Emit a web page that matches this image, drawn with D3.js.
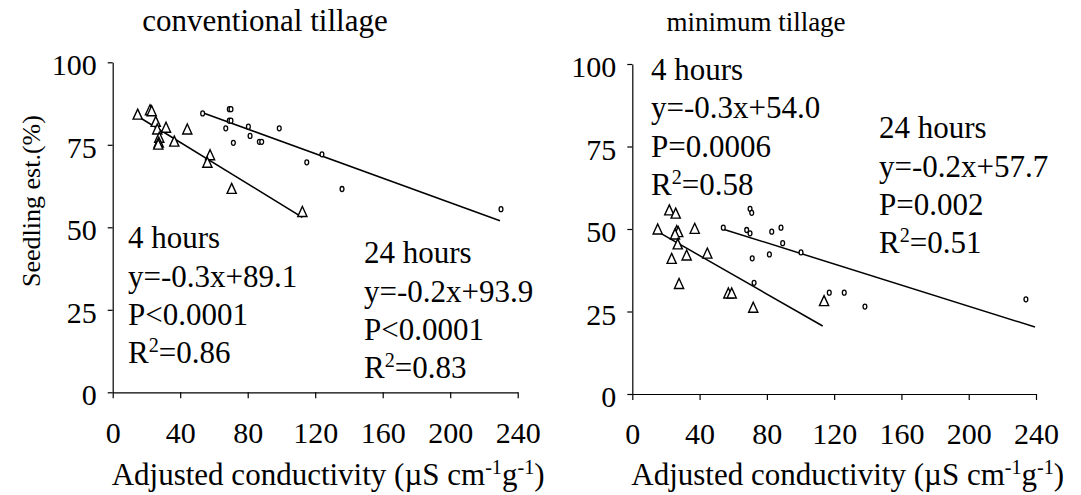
<!DOCTYPE html>
<html>
<head>
<meta charset="utf-8">
<script src="https://cdn.jsdelivr.net/npm/d3@7"></script>
<style>
  body { margin: 0; background: #fff; }
  svg { display: block; }
  text { font-family: 'Liberation Serif', 'Times New Roman', serif; fill: #000; }
</style>
</head>
<body>
<svg id="chart" width="1081" height="495"></svg>
<script>
// axis ticks
const xTicks = [0, 40, 80, 120, 160, 200, 240]
const yTicks = [0, 25, 50, 75, 100]

// conventional tillage, 4 hours (triangles)
const ctX4 = [14.8, 22.1, 23.1, 25.5, 26.4, 27.6, 27.3, 27.0, 31.6, 36.5, 44.2, 57.7, 56.1, 70.5, 112.4]
const ctY4 = [84.0, 85.3, 85.0, 81.8, 79.5, 77.0, 75.5, 74.9, 80.0, 75.8, 79.5, 71.7, 69.4, 61.5, 54.5]
// conventional tillage, 24 hours (circles)
const ctX24 = [53.3, 69.1, 70.1, 69.1, 70.1, 67.0, 80.4, 81.4, 71.5, 86.9, 88.3, 98.7, 115.0, 124.0, 135.9, 230.1]
const ctY24 = [84.5, 85.8, 85.8, 82.3, 82.3, 80.0, 80.5, 77.7, 75.6, 75.9, 75.9, 80.0, 69.7, 72.1, 61.6, 55.5]

// minimum tillage, 4 hours (triangles)
const mtX4 = [15.1, 22.0, 25.8, 26.4, 27.3, 25.4, 27.0, 23.4, 32.3, 37.1, 44.6, 27.8, 57.1, 59.1, 71.9, 114.0]
const mtY4 = [49.7, 55.5, 54.5, 49.2, 48.9, 48.2, 45.2, 40.8, 41.8, 49.9, 42.4, 33.2, 30.3, 30.3, 26.0, 28.0]
// minimum tillage, 24 hours (circles)
const mtX24 = [54.1, 70.0, 71.0, 68.0, 70.0, 82.9, 88.4, 89.4, 81.5, 71.3, 100.3, 72.4, 117.1, 126.0, 138.3, 234.0]
const mtY24 = [50.4, 56.1, 54.9, 49.7, 48.7, 49.2, 50.4, 45.7, 42.3, 41.1, 42.9, 33.7, 30.7, 30.7, 26.5, 28.7]

// fitted lines as drawn: [slope, intercept, xStart, xEnd]
const ctFit4 = [-0.314, 88.3, 14.8, 112.4]
const ctFit24 = [-0.1856, 94.6, 53.3, 229.5]
const mtFit4 = [-0.2915, 53.6, 15.1, 113.2]
const mtFit24 = [-0.160, 58.6, 54.1, 239.4]

// texts
const ctNote4 = ['4 hours', 'y=-0.3x+89.1', 'P<0.0001', 'R^2=0.86']
const ctNote24 = ['24 hours', 'y=-0.2x+93.9', 'P<0.0001', 'R^2=0.83']
const mtNote4 = ['4 hours', 'y=-0.3x+54.0', 'P=0.0006', 'R^2=0.58']
const mtNote24 = ['24 hours', 'y=-0.2x+57.7', 'P=0.002', 'R^2=0.51']
const xTitle = 'Adjusted conductivity (µS cm^-1g^-1)'
const yTitle = 'Seedling est.(%)'

const svg = d3.select('#chart')

// text with "^" superscripts
function richText(sel, str, size) {
  const parts = str.split(/\^([-\d]+)/)
  const rise = size * 0.36
  let raised = false
  parts.forEach((p, i) => {
    if (!p) return
    const sup = i % 2 === 1
    const t = sel.append('tspan').text(p)
    if (sup) {
      t.attr('font-size', size * 0.65).attr('dy', -rise)
      raised = true
    } else if (raised) {
      t.attr('dy', rise)
      raised = false
    }
  })
}

const panels = [
  {
    title: 'conventional tillage', titleX: 265, titleSize: 31,
    left: 112.7, right: 517.7, top: 62.3, bottom: 392.3,
    x4: ctX4, y4: ctY4, x24: ctX24, y24: ctY24, fit4: ctFit4, fit24: ctFit24,
    notes: [{ x: 128, y: 248.3, lines: ctNote4 }, { x: 364, y: 263.3, lines: ctNote24 }],
    yLabel: true
  },
  {
    title: 'minimum tillage', titleX: 756, titleSize: 27,
    left: 632.3, right: 1036, top: 64, bottom: 394,
    x4: mtX4, y4: mtY4, x24: mtX24, y24: mtY24, fit4: mtFit4, fit24: mtFit24,
    notes: [{ x: 651, y: 80, lines: mtNote4 }, { x: 879, y: 138.3, lines: mtNote24 }],
    yLabel: false
  }
]

panels.forEach(p => {
  const x = d3.scaleLinear().domain([0, 240]).range([p.left, p.right])
  const y = d3.scaleLinear().domain([0, 100]).range([p.bottom, p.top])
  const g = svg.append('g')

  // axes
  const yAxis = g.append('g')
    .attr('transform', `translate(${p.left},0)`)
    .call(d3.axisLeft(y).tickValues(yTicks).tickSize(5).tickSizeOuter(0).tickPadding(11))
  yAxis.attr('font-family', null)
  yAxis.selectAll('text').attr('font-size', 30).attr('dy', '0.42em')

  const xAxis = g.append('g')
    .attr('transform', `translate(0,${p.bottom})`)
    .call(d3.axisBottom(x).tickValues(xTicks).tickSize(6).tickSizeOuter(0).tickPadding(23))
  xAxis.attr('font-family', null)
  xAxis.selectAll('text').attr('font-size', 30)

  g.selectAll('.domain, .tick line').attr('stroke', '#000').attr('stroke-width', 1.2)

  // fitted lines
  ;[p.fit4, p.fit24].forEach(f => {
    const xs = [f[2], f[3]]
    g.append('path')
      .attr('d', d3.line().x(d => x(d)).y(d => y(f[0] * d + f[1]))(xs))
      .attr('fill', 'none').attr('stroke', '#000').attr('stroke-width', 1.5)
  })

  // 4 hours: open triangles
  g.selectAll('.tri').data(p.x4.map((v, i) => [v, p.y4[i]])).enter()
    .append('path')
    .attr('d', 'M0,-6 L4.6,4 L-4.6,4 Z')
    .attr('transform', d => `translate(${x(d[0])},${y(d[1])})`)
    .attr('fill', '#fff').attr('stroke', '#000').attr('stroke-width', 1.4)

  // 24 hours: small open circles
  g.selectAll('.circ').data(p.x24.map((v, i) => [v, p.y24[i]])).enter()
    .append('ellipse')
    .attr('cx', d => x(d[0])).attr('cy', d => y(d[1]))
    .attr('rx', 1.9).attr('ry', 2.5)
    .attr('fill', '#fff').attr('stroke', '#000').attr('stroke-width', 1.3)

  // annotations
  p.notes.forEach(n => {
    n.lines.forEach((line, i) => {
      const t = g.append('text').attr('x', n.x).attr('y', n.y + i * 38.3).attr('font-size', 31)
      richText(t, line, 31)
    })
  })

  // titles
  g.append('text').attr('x', p.titleX).attr('y', 31).attr('text-anchor', 'middle')
    .attr('font-size', p.titleSize).text(p.title)

  const xl = g.append('text').attr('x', p.left - 1).attr('y', 485).attr('font-size', 31)
  richText(xl, xTitle, 31)

  if (p.yLabel) {
    g.append('text')
      .attr('transform', `translate(40,201) rotate(-90)`)
      .attr('text-anchor', 'middle').attr('font-size', 26).text(yTitle)
  }
})
</script>
</body>
</html>
